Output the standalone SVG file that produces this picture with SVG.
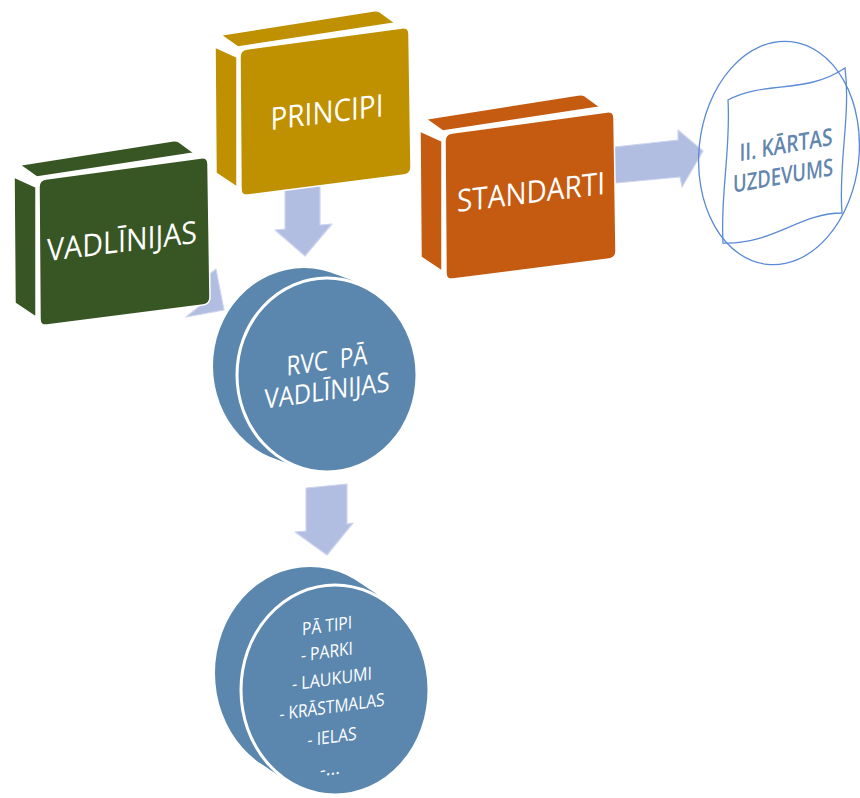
<svg xmlns="http://www.w3.org/2000/svg" xmlns:xlink="http://www.w3.org/1999/xlink" width="860" height="798" viewBox="0 0 860 798">
<style>
.arrow{fill:#B1BDE1;stroke:#CDD5EE;stroke-width:1.2;stroke-linejoin:round}
.disc{fill:#5B87AF}
.face{stroke:#FFFFFF;stroke-width:1.5;stroke-linejoin:round}
.wt{font-family:"Open Sans","Noto Sans","DejaVu Sans",sans-serif;fill:#FFFFFF;text-anchor:middle}
.bt{font-family:"Open Sans","Noto Sans","DejaVu Sans",sans-serif;fill:#6386AE;font-weight:600;text-anchor:middle}
.sketch{fill:none;stroke:#5A8AD6;stroke-width:1.3}
</style>
<defs>
<g id="cube" class="face" fill="currentColor">
<path d="M-25,-3 L-3,7 L-3,137 L-24,123 Z"/>
<path d="M-19,-15 L133,-39 Q137,-40 140,-38 L155,-27 L-2,-3 Z"/>
<path d="M0,7 Q0,0 7,-1 L162,-22 Q169,-23 169,-16 L171,117 Q171,124 164,125 L8,145 Q1,146 1,139 Z"/>
</g>
</defs>
<rect width="860" height="798" fill="#FFFFFF"/>
<g id="connectors">
<path class="arrow" d="M160,240 L196,285 L216,269 L224,310 L186,317 L206,301 L170,256 Z"/>
<path class="arrow" d="M285,185 L320,183 L320,225 L332,224 L305,256 L275,230 L285,229 Z"/>
<path class="arrow" d="M306,488 L347,484 L347,524 L353,523 L327,555 L295,532 L306,531 Z"/>
<path class="arrow" d="M605,148 L678,140 L678,130 L703,151 L682,187 L680,177 L605,184 Z"/>
</g>
<g id="node-vadlinijas">
<use xlink:href="#cube" href="#cube" transform="translate(39,180)" color="#385623"/>
<text class="wt" font-size="31" textLength="150" lengthAdjust="spacingAndGlyphs" transform="translate(122,252) skewY(-7)">VADLĪNIJAS</text>
</g>
<g id="node-principi">
<use xlink:href="#cube" href="#cube" transform="translate(240,50)" color="#BF9000"/>
<text class="wt" font-size="31" textLength="113" lengthAdjust="spacingAndGlyphs" transform="translate(327,123) skewY(-7)">PRINCIPI</text>
</g>
<g id="node-standarti">
<use xlink:href="#cube" href="#cube" transform="translate(445,134)" color="#C55A11"/>
<text class="wt" font-size="31" textLength="148" lengthAdjust="spacingAndGlyphs" transform="translate(531,203) skewY(-7)">STANDARTI</text>
</g>
<g id="node-kartas">
<ellipse class="sketch" cx="779" cy="153" rx="80" ry="112" transform="rotate(6 779 153)"/>
<path class="sketch" d="M728,100 C765,80 805,95 845,68 C851,115 838,165 842,213 C800,213 772,245 723,243 C720,195 731,150 728,100 Z"/>
<text class="bt" font-size="24" textLength="93" lengthAdjust="spacingAndGlyphs" transform="translate(786,153) skewY(-10)">II. KĀRTAS</text>
<text class="bt" font-size="24" textLength="100" lengthAdjust="spacingAndGlyphs" transform="translate(783,184) skewY(-10)">UZDEVUMS</text>
</g>
<g id="node-rvc">
<ellipse class="disc" cx="304" cy="366" rx="91" ry="98"/>
<ellipse class="disc" cx="315" cy="370" rx="91" ry="98"/>
<ellipse class="disc" cx="327" cy="375" rx="90" ry="97" stroke="#FFFFFF" stroke-width="3"/>
<text class="wt" font-size="27" textLength="81" lengthAdjust="spacingAndGlyphs" transform="translate(327,370) skewY(-8)" xml:space="preserve">RVC  PĀ</text>
<text class="wt" font-size="27" textLength="125" lengthAdjust="spacingAndGlyphs" transform="translate(327,400) skewY(-8)">VADLĪNIJAS</text>
</g>
<g id="node-tipi">
<ellipse class="disc" cx="310" cy="673" rx="95" ry="106"/>
<ellipse class="disc" cx="322" cy="681" rx="95" ry="106"/>
<ellipse class="disc" cx="335" cy="690" rx="94" ry="105" stroke="#FFFFFF" stroke-width="3"/>
<text class="wt" font-size="18" textLength="50" lengthAdjust="spacingAndGlyphs" transform="translate(327,632) skewY(-8)">PĀ TIPI</text>
<text class="wt" font-size="18" textLength="52" lengthAdjust="spacingAndGlyphs" transform="translate(327,658) skewY(-8)">- PARKI</text>
<text class="wt" font-size="18" textLength="80" lengthAdjust="spacingAndGlyphs" transform="translate(332,685) skewY(-8)">- LAUKUMI</text>
<text class="wt" font-size="18" textLength="105" lengthAdjust="spacingAndGlyphs" transform="translate(332,713) skewY(-8)">- KRĀSTMALAS</text>
<text class="wt" font-size="18" textLength="49" lengthAdjust="spacingAndGlyphs" transform="translate(332,743) skewY(-8)">- IELAS</text>
<text class="wt" font-size="18" transform="translate(330,775) skewY(-8)">-...</text>
</g>
</svg>
